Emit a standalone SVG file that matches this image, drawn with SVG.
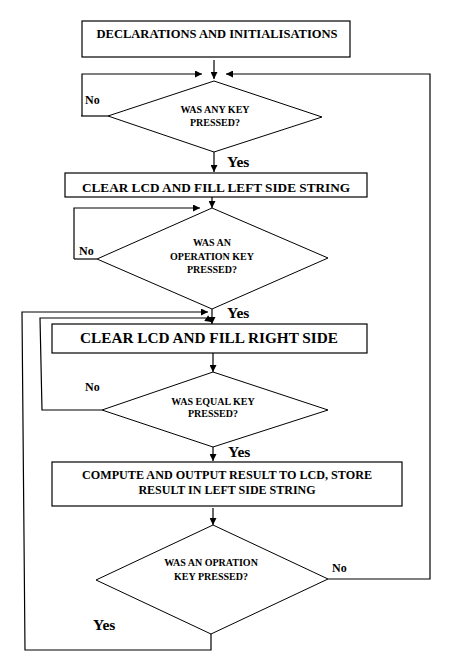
<svg xmlns="http://www.w3.org/2000/svg" width="455" height="660" viewBox="0 0 455 660">
<defs>
<marker id="ah" viewBox="0 0 10 10" refX="10" refY="5" markerWidth="8" markerHeight="7" markerUnits="userSpaceOnUse" orient="auto"><path d="M0,0 L10,5 L0,10 z" fill="#000"/></marker>
<style>
.box{fill:#fff;stroke:#000;stroke-width:1.2}
.dia{fill:#fff;stroke:#000;stroke-width:1}
.ln{fill:none;stroke:#000;stroke-width:1.2}
.ar{fill:none;stroke:#000;stroke-width:1.2;marker-end:url(#ah)}
text{font-family:"Liberation Serif","Times New Roman",serif;font-weight:bold;fill:#000;text-anchor:middle}
.t11{font-size:11.5px}
.t13{font-size:13px}
.t15{font-size:15px}
.t12{font-size:12px}
.d{font-size:10px}
.lbl{font-size:12px;text-anchor:start}
.yes{font-size:15.5px;text-anchor:start}
</style>
</defs>
<rect width="455" height="660" fill="#fff"/>
<g id="connectors">
<path class="ar" d="M214,60 V79"/>
<path class="ln" d="M81,116 H108"/>
<path class="ar" d="M82,116 V74 H202"/>
<path class="ar" d="M328,579 H430 V74 H226"/>
<path class="ar" d="M214,152 V172"/>
<path class="ar" d="M212,197 V208"/>
<path class="ln" d="M74,259 H97"/>
<path class="ar" d="M74,259 V208 H200"/>
<path class="ar" d="M212,309 V324"/>
<path class="ar" d="M211,634 V650 H25 L22,312 H208"/>
<path class="ar" d="M102,410 H42 L40,318 H206 L212,322"/>
<path class="ar" d="M213,353 V372"/>
<path class="ar" d="M213,447 V461"/>
<path class="ar" d="M213,508 V525"/>
</g>
<g id="n1"><rect class="box" x="82" y="21" width="268" height="36"/><text class="t11" x="217" y="38" textLength="241" lengthAdjust="spacingAndGlyphs">DECLARATIONS AND INITIALISATIONS</text></g>
<g id="d1"><polygon class="dia" points="214,81 322,117 214,152 108,116"/><text class="d" x="215" y="112.5">WAS ANY KEY</text><text class="d" x="215" y="125.5">PRESSED?</text></g>
<g id="l1"><text class="lbl" x="85" y="103.5">No</text><text class="yes" x="227" y="167">Yes</text></g>
<g id="n2"><rect class="box" x="65" y="173" width="302" height="24"/><text class="t13" x="216" y="191.5" textLength="268" lengthAdjust="spacingAndGlyphs">CLEAR LCD AND FILL LEFT SIDE STRING</text></g>
<g id="d2"><polygon class="dia" points="212,208 328,258 212,309 97,259"/><text class="d" x="212" y="245.5">WAS AN</text><text class="d" x="212" y="259.5">OPERATION KEY</text><text class="d" x="212" y="272.5">PRESSED?</text></g>
<g id="l2"><text class="lbl" x="79" y="254.5">No</text><text class="yes" x="227" y="318">Yes</text></g>
<g id="n3"><rect class="box" x="52" y="324" width="315" height="29"/><text class="t15" x="209" y="343" textLength="258" lengthAdjust="spacingAndGlyphs">CLEAR LCD AND FILL RIGHT SIDE</text></g>
<g id="d3"><polygon class="dia" points="213,372 328,410 213,447 102,410"/><text class="d" x="213" y="404.5">WAS EQUAL KEY</text><text class="d" x="213" y="416.5">PRESSED?</text></g>
<g id="l3"><text class="lbl" x="85" y="390.5">No</text><text class="yes" x="228" y="457">Yes</text></g>
<g id="n4"><rect class="box" x="52" y="462" width="350" height="44"/><text class="t12" x="227" y="479" textLength="290" lengthAdjust="spacingAndGlyphs">COMPUTE AND OUTPUT RESULT TO LCD, STORE</text><text class="t12" x="227" y="493.5">RESULT IN LEFT SIDE STRING</text></g>
<g id="d4"><polygon class="dia" points="213,525 328,579 211,634 96,580"/><text class="d" x="211" y="565.5">WAS AN OPRATION</text><text class="d" x="211" y="579.5">KEY PRESSED?</text></g>
<g id="l4"><text class="lbl" x="332" y="571.5">No</text><text class="yes" x="93" y="629.5">Yes</text></g>
</svg>
